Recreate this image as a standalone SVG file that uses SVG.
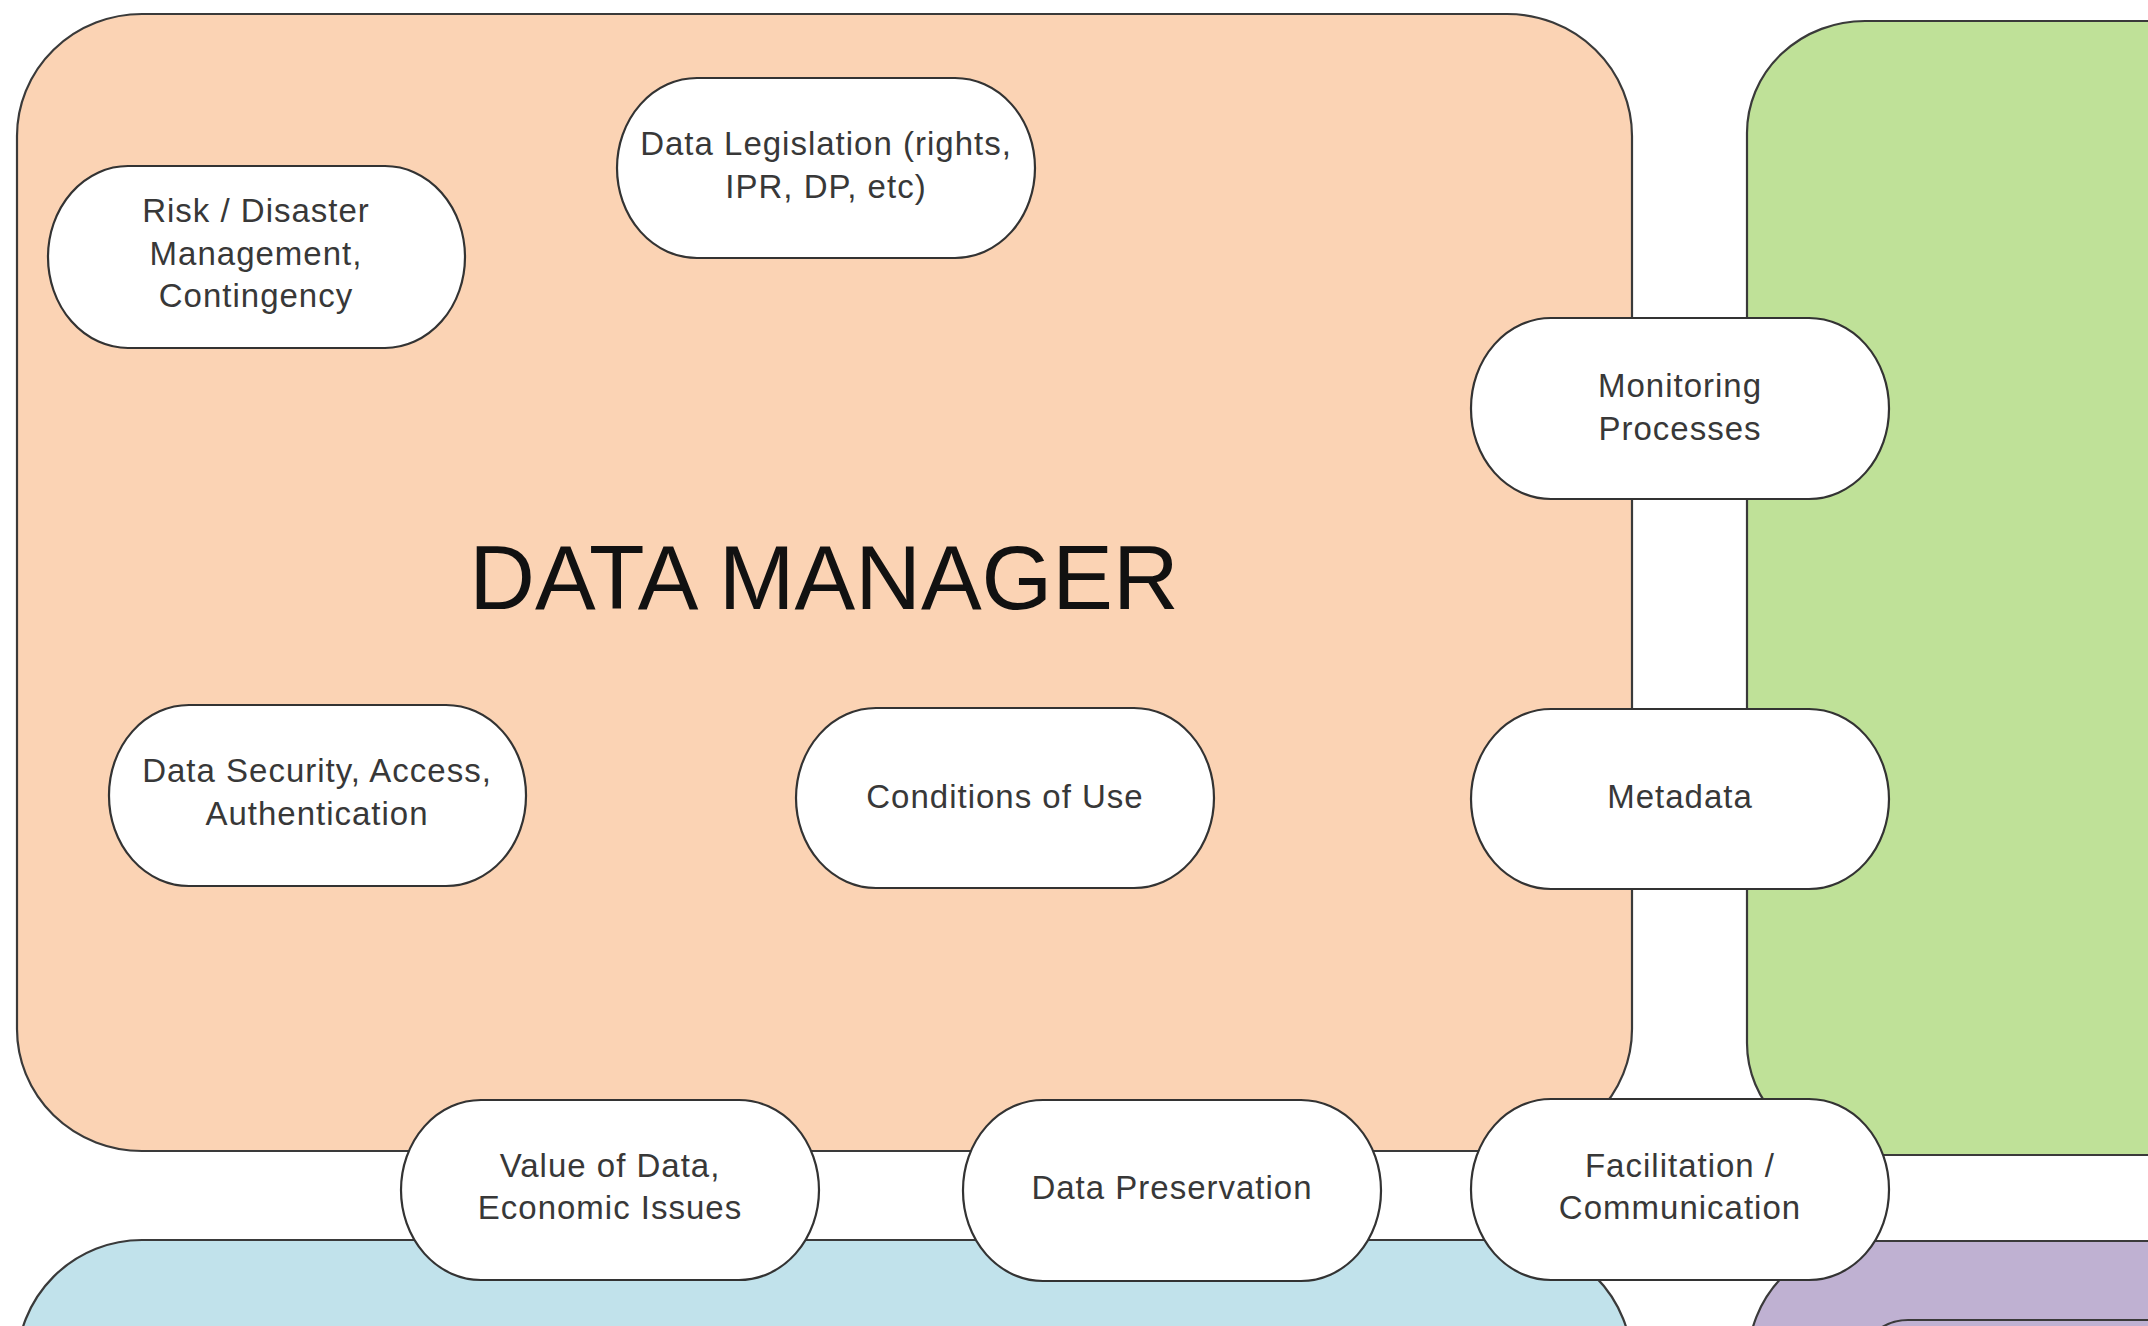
<svg xmlns="http://www.w3.org/2000/svg" width="2148" height="1326" viewBox="0 0 2148 1326">
<style>
.region{stroke:#3a3a3a;stroke-width:2.2}
.orange{fill:#FBD3B4}
.green{fill:#BFE198}
.blue{fill:#C1E2EB}
.purple{fill:#BFB1D2}
.node rect{fill:#ffffff;stroke:#333333;stroke-width:2.2}
.node text{font-family:"Liberation Sans",Arial,sans-serif;font-size:33px;fill:#383838;text-anchor:middle;letter-spacing:1px}
.title{font-family:"Liberation Sans",Arial,sans-serif;font-size:91px;fill:#111111;text-anchor:middle}
</style>
<rect width="2148" height="1326" fill="#ffffff"/>
<g id="regions">
  <g id="region-data-manager">
    <rect class="region orange" x="17" y="14" width="1615" height="1137" rx="125" ry="122"/>
    <text class="title" x="824" y="609">DATA MANAGER</text>
  </g>
  <g id="region-green">
    <rect class="region green" x="1747" y="21" width="600" height="1134" rx="118" ry="112"/>
  </g>
  <g id="region-blue">
    <rect class="region blue" x="17" y="1240" width="1615" height="400" rx="125" ry="125"/>
  </g>
  <g id="region-purple">
    <rect class="region purple" x="1748" y="1241" width="600" height="300" rx="120" ry="120"/>
    <rect class="region purple" x="1858" y="1320" width="500" height="200" rx="50" ry="50"/>
  </g>
</g>
<g id="connectors"></g>
<g id="nodes">
  <g id="node-risk" class="node">
    <rect x="48" y="166" width="417" height="182" rx="80" ry="91"/>
    <text x="256" y="222">Risk / Disaster</text>
    <text x="256" y="265">Management,</text>
    <text x="256" y="307">Contingency</text>
  </g>
  <g id="node-legislation" class="node">
    <rect x="617" y="78" width="418" height="180" rx="80" ry="90"/>
    <text x="826" y="155">Data Legislation (rights,</text>
    <text x="826" y="198">IPR, DP, etc)</text>
  </g>
  <g id="node-monitoring" class="node">
    <rect x="1471" y="318" width="418" height="181" rx="80" ry="90"/>
    <text x="1680" y="397">Monitoring</text>
    <text x="1680" y="440">Processes</text>
  </g>
  <g id="node-security" class="node">
    <rect x="109" y="705" width="417" height="181" rx="80" ry="90"/>
    <text x="317" y="782">Data Security, Access,</text>
    <text x="317" y="825">Authentication</text>
  </g>
  <g id="node-conditions" class="node">
    <rect x="796" y="708" width="418" height="180" rx="80" ry="90"/>
    <text x="1005" y="808">Conditions of Use</text>
  </g>
  <g id="node-metadata" class="node">
    <rect x="1471" y="709" width="418" height="180" rx="80" ry="90"/>
    <text x="1680" y="808">Metadata</text>
  </g>
  <g id="node-value" class="node">
    <rect x="401" y="1100" width="418" height="180" rx="80" ry="90"/>
    <text x="610" y="1177">Value of Data,</text>
    <text x="610" y="1219">Economic Issues</text>
  </g>
  <g id="node-preservation" class="node">
    <rect x="963" y="1100" width="418" height="181" rx="80" ry="90"/>
    <text x="1172" y="1199">Data Preservation</text>
  </g>
  <g id="node-facilitation" class="node">
    <rect x="1471" y="1099" width="418" height="181" rx="80" ry="90"/>
    <text x="1680" y="1177">Facilitation /</text>
    <text x="1680" y="1219">Communication</text>
  </g>
</g>
</svg>
